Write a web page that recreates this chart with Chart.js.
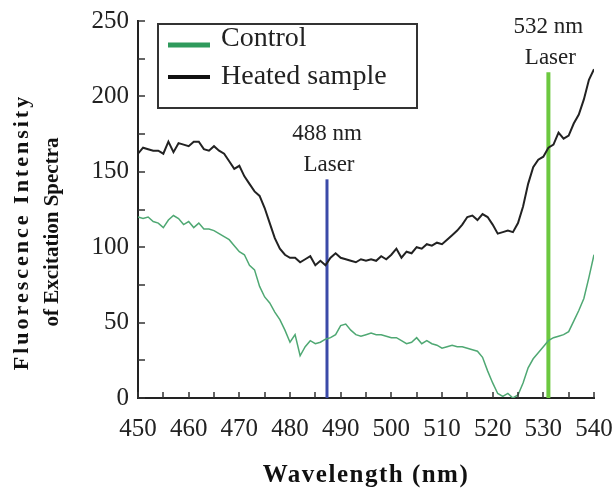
<!DOCTYPE html>
<html>
<head>
<meta charset="utf-8">
<script src="https://cdn.jsdelivr.net/npm/chart.js@4"></script>
<style>
  html, body { margin: 0; padding: 0; background: #fff; }
  #wrap { width: 616px; height: 490px; }
</style>
</head>
<body>
<div id="wrap"><canvas id="spectraChart" width="616" height="490"></canvas></div>
<script>
// wavelength axis (nm), one reading per nm
const wavelengths = [
    450, 451, 452, 453, 454, 455, 456, 457, 458, 459,
    460, 461, 462, 463, 464, 465, 466, 467, 468, 469,
    470, 471, 472, 473, 474, 475, 476, 477, 478, 479,
    480, 481, 482, 483, 484, 485, 486, 487, 488, 489,
    490, 491, 492, 493, 494, 495, 496, 497, 498, 499,
    500, 501, 502, 503, 504, 505, 506, 507, 508, 509,
    510, 511, 512, 513, 514, 515, 516, 517, 518, 519,
    520, 521, 522, 523, 524, 525, 526, 527, 528, 529,
    530, 531, 532, 533, 534, 535, 536, 537, 538, 539,
    540
];

const controlValues = [
    120, 119, 120, 117, 116, 113, 118, 121, 119, 115,
    117, 113, 116, 112, 112, 111, 109, 107, 105, 101,
    97, 95, 88, 85, 74, 67, 63, 57, 52, 45,
    37, 42, 28, 34, 38, 36, 37, 39, 40, 42,
    48, 49, 45, 42, 41, 42, 43, 42, 42, 41,
    40, 40, 38, 36, 37, 40, 36, 38, 36, 35,
    33, 34, 35, 34, 34, 33, 32, 31, 27, 18,
    10, 3, 1, 3, 0, 2, 10, 20, 26, 30,
    34, 38, 40, 41, 42, 44, 51, 58, 66, 80,
    95
];

const heatedValues = [
    162, 166, 165, 164, 164, 162, 170, 163, 169, 168,
    167, 170, 170, 165, 164, 167, 164, 162, 157, 152,
    154, 147, 142, 137, 134, 126, 116, 106, 99, 95,
    93, 93, 90, 92, 94, 88, 91, 88, 93, 96,
    93, 92, 91, 90, 92, 91, 92, 91, 94, 92,
    95, 99, 93, 97, 96, 100, 99, 102, 101, 103,
    102, 105, 108, 111, 115, 120, 121, 118, 122, 120,
    115, 109, 110, 111, 110, 116, 127, 142, 153, 158,
    160, 166, 168, 176, 172, 174, 182, 188, 198, 211,
    218
];

// laser marker lines
const laserWavelengths = [487.3, 531];
const laserTops = [145, 216];
const laserNames = ['488 nm', '532 nm'];
const laserColors = ['#3b4aa8', '#6cc83f'];

const SERIF = '"Liberation Serif", "Times New Roman", serif';
Chart.defaults.font.family = SERIF;

const toPoints = (ys) => wavelengths.map((w, i) => ({ x: w, y: ys[i] }));

const seriesDefs = [
    { label: 'Control', values: controlValues, color: '#4fa873', legendColor: '#2f9a5c', width: 1.5 },
    { label: 'Heated sample', values: heatedValues, color: '#222222', legendColor: '#111111', width: 2 }
];

// inward tick marks on both axes
const innerTicks = {
    id: 'innerTicks',
    afterDraw(chart) {
        const { ctx, chartArea: a, scales: { x, y } } = chart;
        ctx.save();
        ctx.strokeStyle = '#333';
        ctx.lineWidth = 1.5;
        ctx.beginPath();
        x.ticks.forEach(t => {
            const px = Math.round(x.getPixelForValue(t.value));
            ctx.moveTo(px, a.bottom);
            ctx.lineTo(px, a.bottom - 6);
        });
        y.ticks.forEach(t => {
            const py = Math.round(y.getPixelForValue(t.value));
            ctx.moveTo(a.left, py);
            ctx.lineTo(a.left + 7, py);
        });
        ctx.stroke();
        ctx.restore();
    }
};

// laser captions, boxed legend and axis titles
const annotations = {
    id: 'annotations',
    afterDraw(chart) {
        const { ctx, chartArea: a, scales: { x, y } } = chart;
        ctx.save();
        ctx.fillStyle = '#222';
        ctx.textAlign = 'center';
        ctx.textBaseline = 'middle';
        ctx.font = '23px ' + SERIF;
        laserWavelengths.forEach((w, i) => {
            const px = x.getPixelForValue(w);
            const top = y.getPixelForValue(laserTops[i]);
            ctx.fillText(laserNames[i], px, top - 45);
            ctx.fillText('Laser', px + 2, top - 14);
        });

        // legend box
        const bx = a.left + 20, by = a.top + 3, bw = 259, bh = 84;
        ctx.fillStyle = '#fff';
        ctx.fillRect(bx, by, bw, bh);
        ctx.strokeStyle = '#333';
        ctx.lineWidth = 2;
        ctx.strokeRect(bx, by, bw, bh);
        ctx.font = '28px ' + SERIF;
        ctx.textAlign = 'left';
        seriesDefs.forEach((s, i) => {
            const ly = by + 21 + i * 32;
            ctx.strokeStyle = s.legendColor;
            ctx.lineWidth = i === 0 ? 5 : 4;
            ctx.beginPath();
            ctx.moveTo(bx + 10, ly);
            ctx.lineTo(bx + 52, ly);
            ctx.stroke();
            ctx.fillStyle = '#222';
            ctx.fillText(s.label, bx + 63, ly - (i === 0 ? 6 : 0));
        });

        // axis titles
        ctx.fillStyle = '#111';
        ctx.textAlign = 'center';
        ctx.font = 'bold 25px ' + SERIF;
        ctx.letterSpacing = '1.5px';
        ctx.fillText('Wavelength (nm)', (a.left + a.right) / 2, 476);

        ctx.translate(0, 232);
        ctx.rotate(-Math.PI / 2);
        ctx.font = 'bold 22px ' + SERIF;
        ctx.letterSpacing = '3px';
        ctx.fillText('Fluorescence Intensity', 0, 22);
        ctx.font = 'bold 21px ' + SERIF;
        ctx.letterSpacing = '0px';
        ctx.fillText('of Excitation Spectra', 0, 53);
        ctx.restore();
    }
};

new Chart(document.getElementById('spectraChart'), {
    type: 'line',
    data: {
        datasets: [
            ...seriesDefs.map(s => ({
                label: s.label,
                data: toPoints(s.values),
                borderColor: s.color,
                borderWidth: s.width,
                pointRadius: 0,
                tension: 0,
                fill: false
            })),
            ...laserWavelengths.map((w, i) => ({
                label: laserNames[i] + ' Laser',
                data: [{ x: w, y: 0 }, { x: w, y: laserTops[i] }],
                borderColor: laserColors[i],
                borderWidth: i === 0 ? 3 : 4,
                pointRadius: 0,
                fill: false
            }))
        ]
    },
    options: {
        responsive: false,
        animation: false,
        devicePixelRatio: 1,
        layout: { padding: { top: 21, right: 22, left: 0, bottom: 0 } },
        plugins: {
            legend: { display: false },
            tooltip: { enabled: false }
        },
        scales: {
            x: {
                type: 'linear',
                min: 450,
                max: 540,
                border: { display: true, color: '#222', width: 2 },
                grid: { drawOnChartArea: false, drawTicks: false },
                ticks: {
                    stepSize: 5,
                    autoSkip: false,
                    maxRotation: 0,
                    padding: 16,
                    color: '#222',
                    font: { family: SERIF, size: 25 },
                    callback: v => (v % 10 === 0 ? v : '')
                },
                afterFit: s => { s.height = 92; s.paddingLeft = 0; s.paddingRight = 0; }
            },
            y: {
                min: 0,
                max: 250,
                border: { display: true, color: '#222', width: 2 },
                grid: { drawOnChartArea: false, drawTicks: false },
                ticks: {
                    stepSize: 25,
                    autoSkip: false,
                    padding: 9,
                    color: '#222',
                    font: { family: SERIF, size: 25 },
                    callback: v => (v % 50 === 0 ? v : '')
                },
                afterFit: s => { s.width = 138; s.paddingTop = 0; s.paddingBottom = 0; }
            }
        }
    },
    plugins: [innerTicks, annotations]
});
</script>
</body>
</html>
